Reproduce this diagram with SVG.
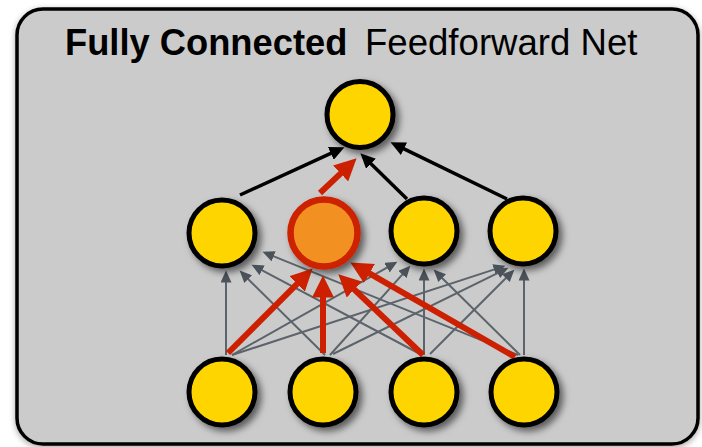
<svg xmlns="http://www.w3.org/2000/svg" width="702" height="447" viewBox="0 0 702 447">
  <style>
    .node { fill: #ffd500; stroke: #000; stroke-width: 5; filter: url(#shadow); }
    .hot { fill: #f29120; stroke: #cc2000; stroke-width: 6.5; filter: url(#shadow); }
    .thin { stroke: #5c636b; stroke-width: 2; fill: none; marker-end: url(#grayHead); }
    .out { stroke: #000; stroke-width: 3.5; fill: none; marker-end: url(#blackHead); }
    .red { stroke: #cc2000; stroke-width: 6; fill: none; marker-end: url(#redHead); }
    .title { font-family: "Liberation Sans", Arial, sans-serif; font-size: 36px; fill: #000; }
  </style>
  <defs>
    <filter id="shadow" x="-40%" y="-40%" width="190%" height="190%">
      <feDropShadow dx="4" dy="4" stdDeviation="3.5" flood-color="#000" flood-opacity="0.55"/>
    </filter>
    <filter id="panelShadow" x="-5%" y="-5%" width="110%" height="110%">
      <feDropShadow dx="0" dy="2" stdDeviation="3" flood-color="#000" flood-opacity="0.35"/>
    </filter>
    <marker id="grayHead" markerUnits="userSpaceOnUse" markerWidth="13" markerHeight="11" refX="0.5" refY="5.5" orient="auto">
      <path d="M0,0 L12,5.5 L0,11 z" fill="#4b525a"/>
    </marker>
    <marker id="blackHead" markerUnits="userSpaceOnUse" markerWidth="16" markerHeight="14" refX="0.5" refY="7" orient="auto">
      <path d="M0,0 L15,7 L0,14 z" fill="#000"/>
    </marker>
    <marker id="redHead" markerUnits="userSpaceOnUse" markerWidth="23" markerHeight="22" refX="0.5" refY="11" orient="auto">
      <path d="M0,0 L22,11 L0,22 z" fill="#cc2000"/>
    </marker>
  </defs>

  <!-- panel -->
  <rect x="17" y="9" width="681" height="435" rx="26" ry="26" fill="#cbcbcb" stroke="#000" stroke-width="3.5" filter="url(#panelShadow)"/>
  <text class="title" x="65" y="55"><tspan font-weight="bold" font-size="36.3">Fully Connected</tspan><tspan x="365" font-size="36.6">Feedforward Net</tspan></text>

  <!-- connectors -->
  <g id="connectors">
    <!-- input layer to hidden layer -->
    <line class="thin" x1="226" y1="355" x2="226" y2="282"/>
    <line class="thin" x1="325" y1="355" x2="247.8" y2="278.7"/>
    <line class="thin" x1="422" y1="355" x2="261.7" y2="270.1"/>
    <line class="thin" x1="518" y1="355" x2="273.2" y2="256.1"/>
    <line class="thin" x1="232" y1="355" x2="387.4" y2="267.4"/>
    <line class="thin" x1="330" y1="355" x2="402.7" y2="274.2"/>
    <line class="thin" x1="424" y1="355" x2="424" y2="280"/>
    <line class="thin" x1="520" y1="355" x2="441.8" y2="277.7"/>
    <line class="thin" x1="232" y1="355" x2="494.5" y2="269.4"/>
    <line class="thin" x1="333" y1="354" x2="498.1" y2="272.9"/>
    <line class="thin" x1="430" y1="354" x2="506.2" y2="277.8"/>
    <line class="thin" x1="524" y1="355" x2="524" y2="280"/>
    <!-- highlighted inputs -->
    <line class="red" x1="228" y1="353" x2="297.4" y2="283.6"/>
    <line class="red" x1="323" y1="353" x2="323" y2="297"/>
    <line class="red" x1="423" y1="355" x2="353.9" y2="289.2"/>
    <line class="red" x1="515" y1="357" x2="369" y2="273.2"/>
    <!-- hidden layer to output -->
    <line class="out" x1="240" y1="195" x2="331.3" y2="153.2"/>
    <line class="out" x1="407" y1="199" x2="370.7" y2="163.5"/>
    <line class="out" x1="507" y1="199" x2="403.5" y2="148.6"/>
    <line class="red" x1="320" y1="193" x2="341" y2="173.1"/>
  </g>

  <!-- output layer -->
  <g id="out"><circle class="node" cx="360" cy="114.5" r="33"/></g>

  <!-- hidden layer -->
  <g id="h1"><circle class="node" cx="222" cy="233" r="33"/></g>
  <g id="h2"><circle class="hot" cx="324" cy="233" r="33.5"/></g>
  <g id="h3"><circle class="node" cx="424" cy="231" r="33"/></g>
  <g id="h4"><circle class="node" cx="523" cy="231" r="33"/></g>

  <!-- input layer -->
  <g id="in1"><circle class="node" cx="222" cy="392" r="33"/></g>
  <g id="in2"><circle class="node" cx="323" cy="392" r="33"/></g>
  <g id="in3"><circle class="node" cx="424" cy="392" r="33"/></g>
  <g id="in4"><circle class="node" cx="524" cy="392" r="33"/></g>
</svg>
